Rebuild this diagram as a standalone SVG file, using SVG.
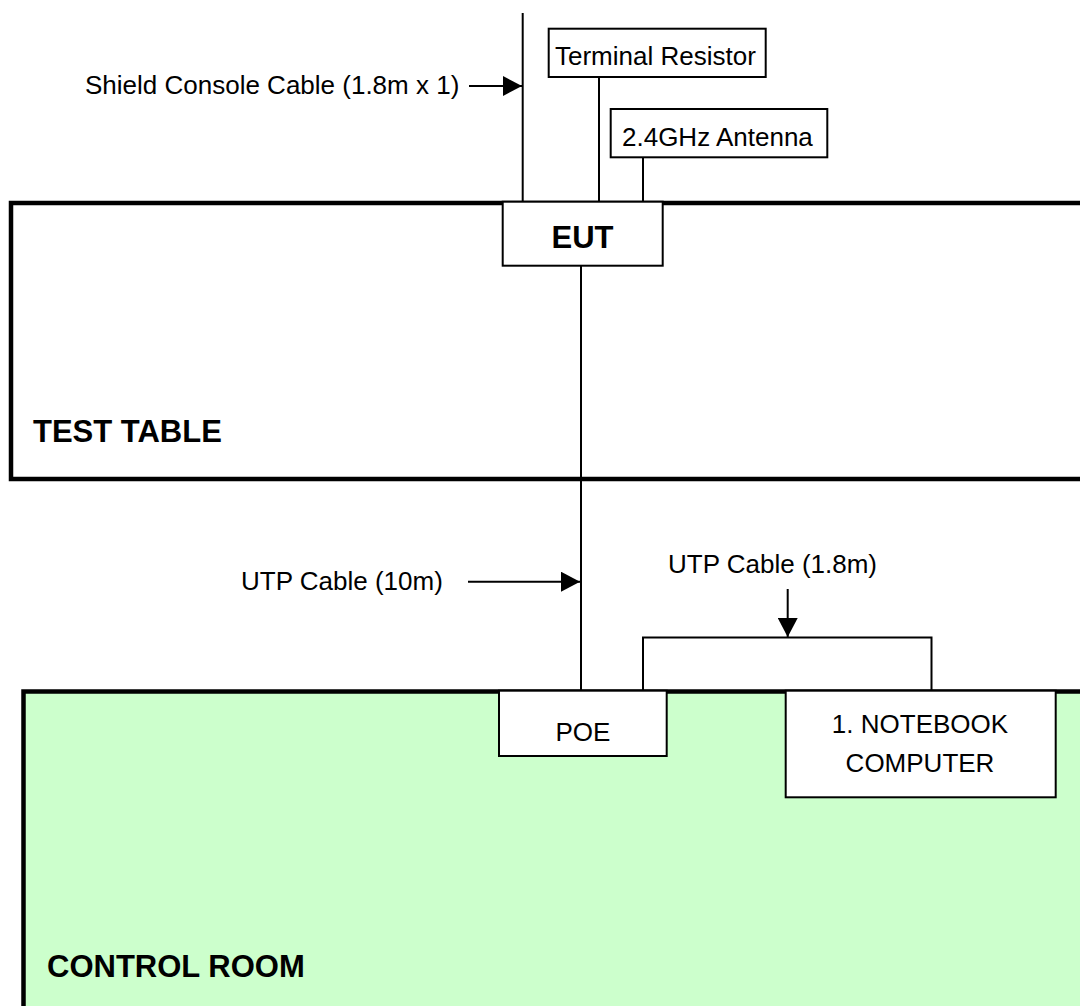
<svg xmlns="http://www.w3.org/2000/svg" width="1080" height="1006" viewBox="0 0 1080 1006">
<style>
  .t { font-family: "Liberation Sans", Arial, sans-serif; font-size: 26px; fill: #000; }
  .b { font-family: "Liberation Sans", Arial, sans-serif; font-size: 31px; font-weight: bold; fill: #000; }
  .box { fill: #fff; stroke: #000; stroke-width: 2; }
  .ln { fill: none; stroke: #000; stroke-width: 2; }
  .area { stroke: #000; stroke-width: 4.5; }
</style>
<defs>
  <marker id="arr" markerUnits="userSpaceOnUse" markerWidth="20" markerHeight="20" refX="19" refY="10" orient="auto">
    <path d="M0,0 L19,10 L0,20 Z" fill="#000"/>
  </marker>
</defs>
<rect width="1080" height="1006" fill="#fff"/>

<g id="test-table">
  <rect class="area" x="11" y="203" width="1090" height="276" fill="#fff"/>
  <text class="b" x="33" y="442">TEST TABLE</text>
</g>

<g id="control-room">
  <rect class="area" x="23.5" y="691.5" width="1080" height="340" fill="#CCFFCC"/>
  <text class="b" x="47" y="977">CONTROL ROOM</text>
</g>

<g id="connectors">
  <line class="ln" x1="522.7" y1="13" x2="522.7" y2="202"/>
  <line class="ln" x1="599" y1="77" x2="599" y2="202"/>
  <line class="ln" x1="643" y1="157" x2="643" y2="202"/>
  <line class="ln" x1="581" y1="265" x2="581" y2="691"/>
  <polyline class="ln" points="643,690 643,637.5 931.5,637.5 931.5,690"/>
  <line class="ln" x1="469" y1="86" x2="522" y2="86" marker-end="url(#arr)"/>
  <line class="ln" x1="468" y1="581.7" x2="580" y2="581.7" marker-end="url(#arr)"/>
  <line class="ln" x1="787.7" y1="589" x2="787.7" y2="637" marker-end="url(#arr)"/>
</g>

<g id="terminal-resistor">
  <rect class="box" x="548.7" y="28.7" width="217" height="48.3"/>
  <text class="t" x="555" y="65">Terminal Resistor</text>
</g>

<g id="antenna">
  <rect class="box" x="610.7" y="109" width="216.6" height="48.3"/>
  <text class="t" x="622" y="145.7">2.4GHz Antenna</text>
</g>

<g id="eut">
  <rect class="box" x="502.7" y="201.7" width="160" height="64"/>
  <text class="b" x="582.5" y="248" text-anchor="middle">EUT</text>
</g>

<g id="poe">
  <rect class="box" x="499" y="690.7" width="167.7" height="65.3"/>
  <text class="t" x="583" y="741" text-anchor="middle">POE</text>
</g>

<g id="notebook">
  <rect class="box" x="785.7" y="690.7" width="270" height="106.6"/>
  <text class="t" x="920" y="732.7" text-anchor="middle">1. NOTEBOOK</text>
  <text class="t" x="920" y="771.7" text-anchor="middle">COMPUTER</text>
</g>

<g id="labels">
  <text class="t" x="85" y="94">Shield Console Cable (1.8m x 1)</text>
  <text class="t" x="241" y="590">UTP Cable (10m)</text>
  <text class="t" x="668" y="573.3">UTP Cable (1.8m)</text>
</g>
</svg>
